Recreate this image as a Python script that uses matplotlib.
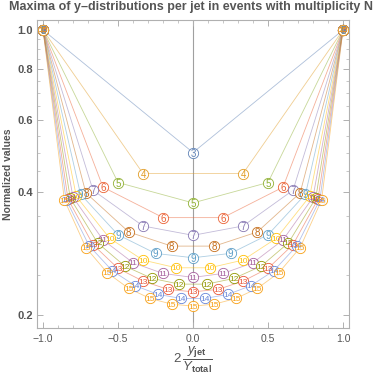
import numpy as np
import matplotlib.pyplot as plt
from matplotlib.ticker import FixedLocator, NullFormatter

plt.rcParams['font.family'] = ['Liberation Sans', 'DejaVu Sans']
plt.rcParams['mathtext.fontset'] = 'custom'
plt.rcParams['mathtext.rm'] = 'Liberation Sans'
plt.rcParams['mathtext.it'] = 'Liberation Sans:italic'
plt.rcParams['mathtext.bf'] = 'Liberation Sans:bold'

# multiplicities and the normalized maxima of each jet (ordered in rapidity)
mult = [3, 4, 5, 6, 7, 8, 9, 10, 11, 12, 13, 14, 15]
maxima = {
    3: [1.0, 0.500, 1.0],
    4: [1.0, 0.444, 0.444, 1.0],
    5: [1.0, 0.422, 0.376, 0.422, 1.0],
    6: [1.0, 0.411, 0.346, 0.346, 0.411, 1.0],
    7: [1.0, 0.404, 0.330, 0.313, 0.330, 0.404, 1.0],
    8: [1.0, 0.398, 0.319, 0.2945, 0.2945, 0.319, 0.398, 1.0],
    9: [1.0, 0.395, 0.314, 0.2826, 0.2757, 0.2826, 0.314, 0.395, 1.0],
    10: [1.0, 0.390, 0.3077, 0.2721, 0.2605, 0.2605, 0.2721, 0.3077, 0.390, 1.0],
    11: [1.0, 0.388, 0.305, 0.268, 0.2523, 0.2467, 0.2523, 0.268, 0.305, 0.388, 1.0],
    12: [1.0, 0.386, 0.300, 0.263, 0.2453, 0.2375, 0.2375, 0.2453, 0.263, 0.300, 0.386, 1.0],
    13: [1.0, 0.384, 0.297, 0.2596, 0.2416, 0.2305, 0.2274, 0.2305, 0.2416, 0.2596, 0.297, 0.384, 1.0],
    14: [1.0, 0.383, 0.295, 0.2562, 0.2353, 0.224, 0.219, 0.219, 0.224, 0.2353, 0.2562, 0.295, 0.383, 1.0],
    15: [1.0, 0.382, 0.292, 0.2532, 0.2318, 0.219, 0.2121, 0.2097, 0.2121, 0.219, 0.2318, 0.2532, 0.292, 0.382, 1.0],
}
colors = ['#5E81B5', '#E19C24', '#8FB032', '#EB6235', '#8778B3', '#C56E1A', '#5D9EC7',
          '#FFBF00', '#A5609D', '#929600', '#E95536', '#6685D9', '#F89F13']

fig = plt.figure(figsize=(3.82, 3.84), dpi=100)
ax = fig.add_axes([0.0969, 0.1458, 0.8167, 0.8021])

for n, c in zip(mult, colors):
    x = np.linspace(-1, 1, n)
    y = maxima[n]
    ax.plot(x, y, color=c, lw=0.6, alpha=0.5, zorder=1)
    ax.plot(x, y, ls='none', marker='o', ms=7.4, mfc=(1, 1, 1, 0.85), mec=c, mew=0.6, zorder=2)
    for xi, yi in zip(x, y):
        ax.text(xi, yi, str(n), color=c, fontsize=6.0 if n > 9 else 7.0,
                ha='center', va='center_baseline', zorder=3)

ax.axvline(0, color='#a0a0a0', lw=0.8, zorder=0)

ax.set_yscale('log')
ax.set_xlim(-1.04, 1.04)
ax.set_ylim(0.1853, 1.058)

ax.yaxis.set_major_locator(FixedLocator([0.2, 0.4, 0.6, 0.8, 1.0]))
ax.yaxis.set_minor_locator(FixedLocator([0.25, 0.3, 0.35, 0.45, 0.5, 0.55, 0.65, 0.7, 0.75, 0.85, 0.9, 0.95]))
ax.set_yticklabels(['0.2', '0.4', '0.6', '0.8', '1.0'])
ax.yaxis.set_minor_formatter(NullFormatter())
ax.set_xticks([-1.0, -0.5, 0.0, 0.5, 1.0])
ax.set_xticklabels(['\u22121.0', '\u22120.5', '0.0', '0.5', '1.0'])
ax.set_xticks(np.arange(-1.0, 1.01, 0.1), minor=True)

for s in ax.spines.values():
    s.set_color('#b0b0b0')
    s.set_linewidth(0.8)
ax.tick_params(which='both', direction='in', top=True, right=True, color='#b0b0b0')
ax.tick_params(which='major', length=4, width=0.7)
ax.tick_params(which='minor', length=2, width=0.5)
ax.tick_params(axis='x', labelsize=7.5, labelcolor='#555555', pad=4)
ax.tick_params(axis='y', labelsize=8, labelcolor='#555555', pad=3)
for t in ax.get_yticklabels():
    t.set_fontweight('bold')

ax.set_ylabel('Normalized values', fontsize=7.5, fontweight='bold', color='#555555', labelpad=3)
ax.set_xlabel(r'$2\,\dfrac{y_{\mathbf{jet}}}{Y_{\mathbf{total}}}$', fontsize=9.5, color='#555555', labelpad=1)
fig.suptitle('Maxima of y\u2013distributions per jet in events with multiplicity N',
             x=0.5, y=0.997, va='top', fontsize=9.0, fontweight='bold', color='#555555')

fig.savefig('out.png', dpi=100)
